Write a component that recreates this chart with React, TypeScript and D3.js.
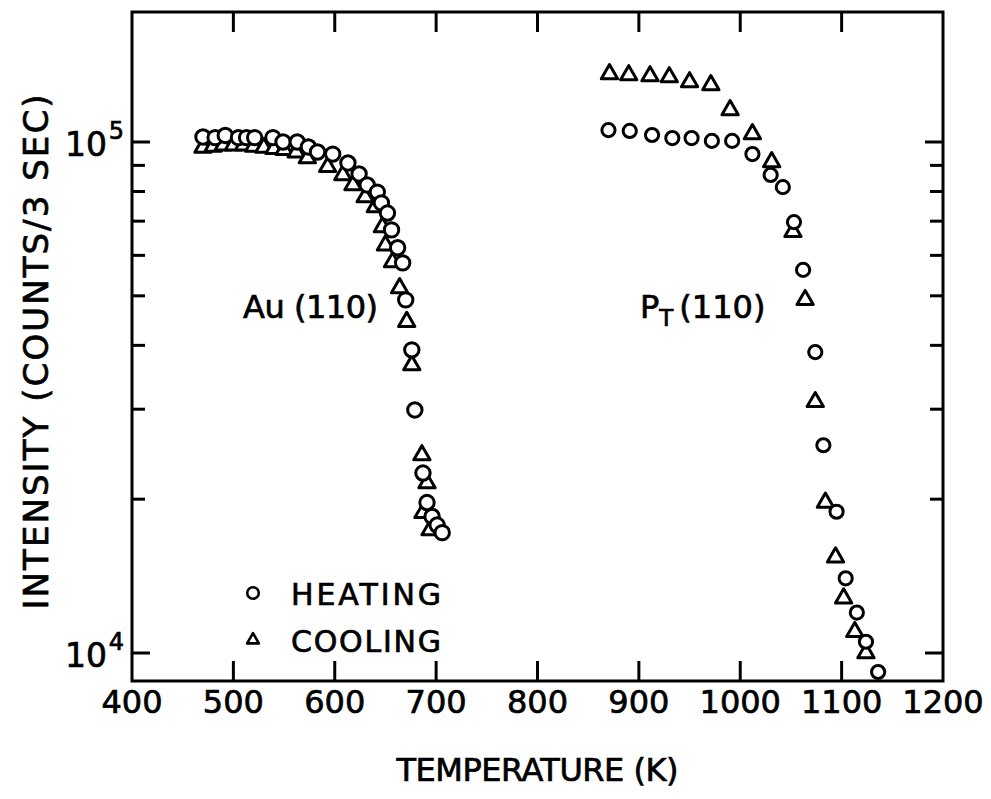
import React from "react";
import * as d3 from "d3";

const W = 991;
const H = 799;

// Au(110)
const auHeatT = [470, 482, 492, 505, 513, 521, 539, 549, 563, 574, 583, 598, 613, 624, 632, 642, 646, 652, 656, 662, 667, 670, 676, 679, 687, 691, 696, 701, 706];
const auHeatI = [1.023e5, 1.02e5, 1.03e5, 1.02e5, 1.02e5, 1.02e5, 1.02e5, 1.0e5, 1.0e5, 0.978e5, 0.956e5, 0.947e5, 0.91e5, 0.866e5, 0.824e5, 0.798e5, 0.76e5, 0.726e5, 0.673e5, 0.621e5, 0.58e5, 0.491e5, 0.392e5, 0.299e5, 0.225e5, 0.197e5, 0.185e5, 0.178e5, 0.172e5];
const auCoolT = [470, 480, 490, 500, 510, 520, 530, 540, 550, 562, 573, 593, 608, 618, 630, 640, 647, 650, 657, 664, 671, 676, 686, 691, 687, 694];
const auCoolI = [0.975e5, 0.98e5, 0.985e5, 0.985e5, 0.985e5, 0.98e5, 0.975e5, 0.97e5, 0.965e5, 0.955e5, 0.93e5, 0.894e5, 0.862e5, 0.824e5, 0.78e5, 0.746e5, 0.682e5, 0.628e5, 0.582e5, 0.518e5, 0.445e5, 0.366e5, 0.244e5, 0.215e5, 0.188e5, 0.174e5];

// Pt(110)
const ptHeatT = [870, 891, 913, 933, 952, 972, 992, 1012, 1030, 1042, 1053, 1062, 1074, 1082, 1095, 1104, 1115, 1124, 1136];
const ptHeatI = [1.055e5, 1.051e5, 1.032e5, 1.018e5, 1.018e5, 1.005e5, 1.005e5, 0.947e5, 0.862e5, 0.816e5, 0.697e5, 0.562e5, 0.388e5, 0.255e5, 0.189e5, 0.14e5, 0.12e5, 1.052e4, 9.18e3];
const ptCoolT = [871, 890, 911, 930, 950, 971, 990, 1012, 1031, 1052, 1064, 1074, 1084, 1094, 1102, 1113, 1124];
const ptCoolI = [1.359e5, 1.352e5, 1.346e5, 1.34e5, 1.31e5, 1.293e5, 1.155e5, 1.037e5, 0.914e5, 0.667e5, 0.491e5, 0.31e5, 0.197e5, 0.154e5, 0.128e5, 0.11e5, 1.0e4];

const xTicks = [400, 500, 600, 700, 800, 900, 1000, 1100, 1200];
const yMajor = [1e4, 1e5];
const yMinor = [2e4, 3e4, 4e4, 5e4, 6e4, 7e4, 8e4, 9e4];
const yExp = ["4", "5"];

const left = 132, right = 943, top = 12, bottom = 681;

const FONT = "'DejaVu Sans', 'Liberation Sans', sans-serif";
const TS = { stroke: "black", strokeWidth: 0.7 };

export default function App() {
  const x = d3.scaleLinear().domain([400, 1200]).range([left, right]);
  const yTop = 5 + (142 - top) / 511;
  const yBot = 4 - (bottom - 653) / 511;
  const y = d3.scaleLog().domain([Math.pow(10, yBot), Math.pow(10, yTop)]).range([bottom, top]);

  const tri = d3.symbol().type(d3.symbolTriangle).size(115)();
  const triSmall = d3.symbol().type(d3.symbolTriangle).size(60)();

  const sw = 3;
  const tw = 3;

  const circles = (T: number[], I: number[], r: number, key: string) =>
    T.map((t, i) => (
      <circle key={key + i} cx={x(t)} cy={y(I[i])} r={r} fill="white" stroke="black" strokeWidth={sw} />
    ));
  const tris = (T: number[], I: number[], key: string) =>
    T.map((t, i) => (
      <path key={key + i} d={tri} transform={`translate(${x(t)},${y(I[i])})`} fill="white" stroke="black" strokeWidth={sw} strokeLinejoin="round" />
    ));

  return (
    <svg width={W} height={H} style={{ position: "absolute", left: 0, top: 0, background: "white" }} fontFamily={FONT}>
      <rect x={0} y={0} width={W} height={H} fill="white" />
      {/* frame */}
      <rect x={left} y={top} width={right - left} height={bottom - top} fill="none" stroke="black" strokeWidth={3} />
      {/* x ticks */}
      {xTicks.slice(1, -1).map((t) => (
        <g key={"xt" + t}>
          <line x1={x(t)} x2={x(t)} y1={bottom} y2={bottom - 20} stroke="black" strokeWidth={tw} />
          <line x1={x(t)} x2={x(t)} y1={top} y2={top + 20} stroke="black" strokeWidth={tw} />
        </g>
      ))}
      {xTicks.map((t) => (
        <text key={"xl" + t} x={x(t)} y={bottom + 32} textAnchor="middle" fontSize={32} {...TS}>{t}</text>
      ))}
      {/* y ticks */}
      {yMajor.map((v) => (
        <g key={"ym" + v}>
          <line x1={left} x2={left + 18} y1={y(v)} y2={y(v)} stroke="black" strokeWidth={tw} />
          <line x1={right} x2={right - 18} y1={y(v)} y2={y(v)} stroke="black" strokeWidth={tw} />
        </g>
      ))}
      {yMinor.map((v) => (
        <g key={"yn" + v}>
          <line x1={left} x2={left + 13} y1={y(v)} y2={y(v)} stroke="black" strokeWidth={tw} />
          <line x1={right} x2={right - 13} y1={y(v)} y2={y(v)} stroke="black" strokeWidth={tw} />
        </g>
      ))}
      {yMajor.map((v) => (
        <text key={"yl" + v} x={left - 25} y={y(v) + 14} textAnchor="end" fontSize={33} {...TS}>
          10
        </text>
      ))}
      {yMajor.map((v, i) => (
        <text key={"ye" + v} x={left - 8} y={y(v) - 3} textAnchor="end" fontSize={24} {...TS}>
          {yExp[i]}
        </text>
      ))}
      {/* axis titles */}
      <text x={(left + right) / 2} y={781} textAnchor="middle" fontSize={32} textLength={282} lengthAdjust="spacing" {...TS}>TEMPERATURE (K)</text>
      <text transform={`translate(48,352) rotate(-90)`} textAnchor="middle" fontSize={34} textLength={515} lengthAdjust="spacing" {...TS}>INTENSITY (COUNTS/3 SEC)</text>

      {/* data */}
      {tris(auCoolT, auCoolI, "ac")}
      {circles(auHeatT, auHeatI, 7.2, "ah")}
      {tris(ptCoolT, ptCoolI, "pc")}
      {circles(ptHeatT, ptHeatI, 6.6, "ph")}

      {/* labels */}
      <text x={243} y={318} fontSize={32} textLength={135} lengthAdjust="spacing" {...TS}>Au (110)</text>
      <text x={640} y={318} fontSize={32} {...TS}>
        P<tspan fontSize={23} dy={8}>T</tspan><tspan dy={-8} dx={6}>(110)</tspan>
      </text>

      {/* legend */}
      <circle cx={253} cy={593} r={5.8} fill="white" stroke="black" strokeWidth={2.6} />
      <text x={291} y={605} fontSize={30} textLength={150} lengthAdjust="spacing" {...TS}>HEATING</text>
      <path d={triSmall} transform="translate(253,640)" fill="white" stroke="black" strokeWidth={2.6} strokeLinejoin="round" />
      <text x={291} y={652} fontSize={30} textLength={150} lengthAdjust="spacing" {...TS}>COOLING</text>
    </svg>
  );
}
